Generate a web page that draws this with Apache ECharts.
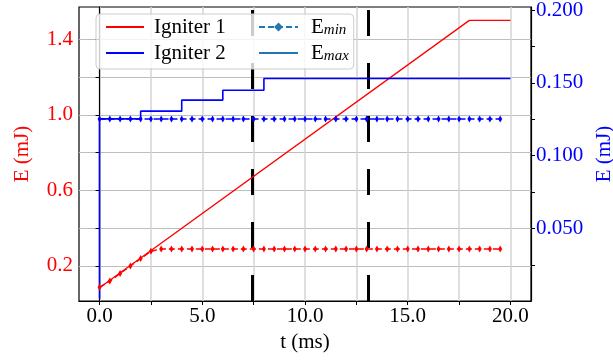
<!DOCTYPE html>
<html>
<head>
<meta charset="utf-8">
<script src="https://cdn.jsdelivr.net/npm/echarts@6.0.0/dist/echarts.min.js"></script>
<style>
  html, body { margin: 0; padding: 0; background: #fff; }
  #chart { width: 613px; height: 360px; }
</style>
</head>
<body>
<div id="chart"></div>
<script>
// igniter 1 -> left axis, igniter 2 -> right axis
const tMax1 = [0, 18, 20];
const eMax1 = [0.085, 1.5, 1.5];
const tMax2 = [0, 0, 2, 2, 4, 4, 6, 6, 8, 8, 20];
const eMax2 = [0.002, 0.1253, 0.1253, 0.1306, 0.1306, 0.1382, 0.1382, 0.145, 0.145, 0.153, 0.153];

const tMin = [0, 0.5, 1, 1.5, 2, 2.5, 3, 3.5, 4, 4.5, 5, 5.5, 6, 6.5, 7, 7.5, 8, 8.5, 9, 9.5,
  10, 10.5, 11, 11.5, 12, 12.5, 13, 13.5, 14, 14.5, 15, 15.5, 16, 16.5, 17, 17.5, 18, 18.5, 19, 19.5];
const eMin1 = [0.087, 0.12, 0.16, 0.2, 0.239, 0.278, 0.29, 0.29, 0.29, 0.29, 0.29, 0.29, 0.29, 0.29,
  0.29, 0.29, 0.29, 0.29, 0.29, 0.29, 0.29, 0.29, 0.29, 0.29, 0.29, 0.29, 0.29, 0.29, 0.29, 0.29,
  0.29, 0.29, 0.29, 0.29, 0.29, 0.29, 0.29, 0.29, 0.29, 0.29];
const eMin2 = [0.1253, 0.1253, 0.1253, 0.1253, 0.1253, 0.1253, 0.1253, 0.1253, 0.1253, 0.1253,
  0.1253, 0.1253, 0.1253, 0.1253, 0.1253, 0.1253, 0.1253, 0.1253, 0.1253, 0.1253,
  0.1253, 0.1253, 0.1253, 0.1253, 0.1253, 0.1253, 0.1253, 0.1253, 0.1253, 0.1253,
  0.1253, 0.1253, 0.1253, 0.1253, 0.1253, 0.1253, 0.1253, 0.1253, 0.1253, 0.1253];

// black dashed markers in time
const tLines = [7.42, 13.1];

const xTicks = [0, 2.5, 5, 7.5, 10, 12.5, 15, 17.5, 20];
const xLabels = [0, 5, 10, 15, 20];
const leftTicks = [0.2, 0.4, 0.6, 0.8, 1.0, 1.2, 1.4];
const leftLabels = [0.2, 0.6, 1.0, 1.4];
const rightTicks = [0.025, 0.05, 0.075, 0.1, 0.125, 0.15, 0.175, 0.2];
const rightLabels = [0.05, 0.1, 0.15, 0.2];

const FONT = "'Liberation Serif', 'DejaVu Serif', serif";
const RED = "#ff0000";
const BLUE = "#0000ff";
const TAB = "#1f77b4";

const pts = (t, v) => t.map((x, i) => [x, v[i]]);

const chart = echarts.init(document.getElementById("chart"));

const legendText = {
  fontFamily: FONT,
  fontSize: 21,
  color: "#000",
  lineHeight: 21,
  padding: [0, 0, 0, 5],
  rich: {
    e: { fontFamily: FONT, fontSize: 21, color: "#000", lineHeight: 21 },
    s: { fontFamily: FONT, fontSize: 15, fontStyle: "italic", color: "#000", lineHeight: 12, verticalAlign: "bottom" },
  },
};

// line-only legend entries: hide the default marker
const noMark = { color: "rgba(0,0,0,0)", borderWidth: 0, opacity: 0 };

const option = {
  animation: false,
  backgroundColor: "#fff",
  grid: {
    left: 79,
    right: 82,
    top: 7,
    bottom: 59,
    show: true,
    borderColor: "#000",
    borderWidth: 1.2,
    outerBoundsMode: "none",
  },
  legend: [
    {
      data: [
        { name: "Igniter 1", itemStyle: noMark },
        { name: "Igniter 2", itemStyle: noMark },
      ],
      orient: "vertical",
      left: 96,
      top: 14,
      itemGap: 5,
      itemWidth: 38,
      itemHeight: 11,
      padding: [2.5, 128, 5.5, 9],
      backgroundColor: "rgba(255,255,255,0.8)",
      borderColor: "#cccccc",
      borderWidth: 1,
      borderRadius: 4,
      textStyle: legendText,
      z: 6,
    },
    {
      data: ["E_min", { name: "E_max", itemStyle: noMark }],
      orient: "vertical",
      left: 258,
      top: 14,
      itemGap: 5,
      itemWidth: 39,
      itemHeight: 11,
      padding: [2.5, 0, 5.5, 0],
      textStyle: Object.assign({}, legendText, { padding: [0, 0, 0, 8] }),
      formatter: (name) => "{e|E}{s|" + name.split("_")[1] + "}",
      z: 6,
    },
  ],
  xAxis: {
    type: "value",
    min: -1,
    max: 21,
    name: "t (ms)",
    nameLocation: "middle",
    nameGap: 31,
    nameTextStyle: { fontFamily: FONT, fontSize: 21, color: "#000" },
    axisLine: { show: true, lineStyle: { color: "#000", width: 1.2 } },
    axisTick: { show: true, length: 4, lineStyle: { color: "#000" }, customValues: xTicks },
    axisLabel: {
      customValues: xLabels,
      margin: 5,
      fontFamily: FONT,
      fontSize: 21,
      color: "#000",
      formatter: (v) => v.toFixed(1),
    },
    splitLine: { show: true, lineStyle: { color: "#d4d4d4", width: 1.5 } },
  },
  yAxis: [
    {
      type: "value",
      position: "left",
      min: 0.0145,
      max: 1.5708,
      name: "E (mJ)",
      nameLocation: "middle",
      nameRotate: 90,
      nameGap: 46,
      nameTextStyle: { fontFamily: FONT, fontSize: 21, color: RED },
      axisLine: { show: true, lineStyle: { color: "#000", width: 1.2 } },
      axisTick: { show: true, length: 4, lineStyle: { color: "#000" }, customValues: leftTicks },
      axisLabel: {
        customValues: leftLabels,
        margin: 6,
        fontFamily: FONT,
        fontSize: 21,
        color: RED,
        formatter: (v) => v.toFixed(1),
      },
      splitLine: { show: true, lineStyle: { color: "#bdbdbd", width: 1 } },
    },
    {
      type: "value",
      position: "right",
      min: 0.0003,
      max: 0.2021,
      name: "E (mJ)",
      nameLocation: "middle",
      nameRotate: 90,
      nameGap: 59,
      nameTextStyle: { fontFamily: FONT, fontSize: 21, color: BLUE },
      axisLine: { show: true, lineStyle: { color: "#000", width: 1.2 } },
      axisTick: { show: true, length: 4, lineStyle: { color: "#000" }, customValues: rightTicks },
      axisLabel: {
        customValues: rightLabels,
        margin: 5,
        fontFamily: FONT,
        fontSize: 21,
        color: BLUE,
        formatter: (v) => v.toFixed(3),
      },
      splitLine: { show: false },
    },
  ],
  series: [
    // legend-only entries
    { name: "Igniter 1", type: "line", data: [], symbol: "none", lineStyle: { color: RED, width: 1.5 }, itemStyle: { color: RED } },
    { name: "Igniter 2", type: "line", data: [], symbol: "none", lineStyle: { color: BLUE, width: 1.5 }, itemStyle: { color: BLUE } },
    {
      name: "E_min", type: "line", data: [],
      symbol: "path://M0,-10L5,0L0,10L-5,0Z", symbolKeepAspect: true,
      lineStyle: { color: TAB, width: 1.5, type: [6, 3] }, itemStyle: { color: TAB },
    },
    { name: "E_max", type: "line", data: [], symbol: "none", lineStyle: { color: TAB, width: 1.5 }, itemStyle: { color: TAB } },

    // igniter 1
    {
      name: "i1 max", type: "line", yAxisIndex: 0, data: pts(tMax1, eMax1),
      symbol: "none", lineStyle: { color: RED, width: 1.3 },
    },
    {
      name: "i1 min", type: "line", yAxisIndex: 0, data: pts(tMin, eMin1),
      symbol: "diamond", symbolSize: [4, 7], showSymbol: true,
      itemStyle: { color: RED }, lineStyle: { color: RED, width: 1.5, type: [6, 3] },
    },
    // igniter 2
    {
      name: "i2 max", type: "line", yAxisIndex: 1, data: pts(tMax2, eMax2),
      symbol: "none", lineStyle: { color: BLUE, width: 1.6 },
    },
    {
      name: "i2 min", type: "line", yAxisIndex: 1, data: pts(tMin, eMin2),
      symbol: "diamond", symbolSize: [4, 7], showSymbol: true,
      itemStyle: { color: BLUE }, lineStyle: { color: BLUE, width: 1.5, type: [6, 3] },
      markLine: {
        z: 3,
        silent: true,
        symbol: "none",
        label: { show: false },
        lineStyle: { color: "#000", width: 3, type: [26, 27] },
        emphasis: { disabled: true },
        data: tLines.map((t) => ({ xAxis: t })),
      },
    },
  ],
};

chart.setOption(option);
</script>
</body>
</html>
